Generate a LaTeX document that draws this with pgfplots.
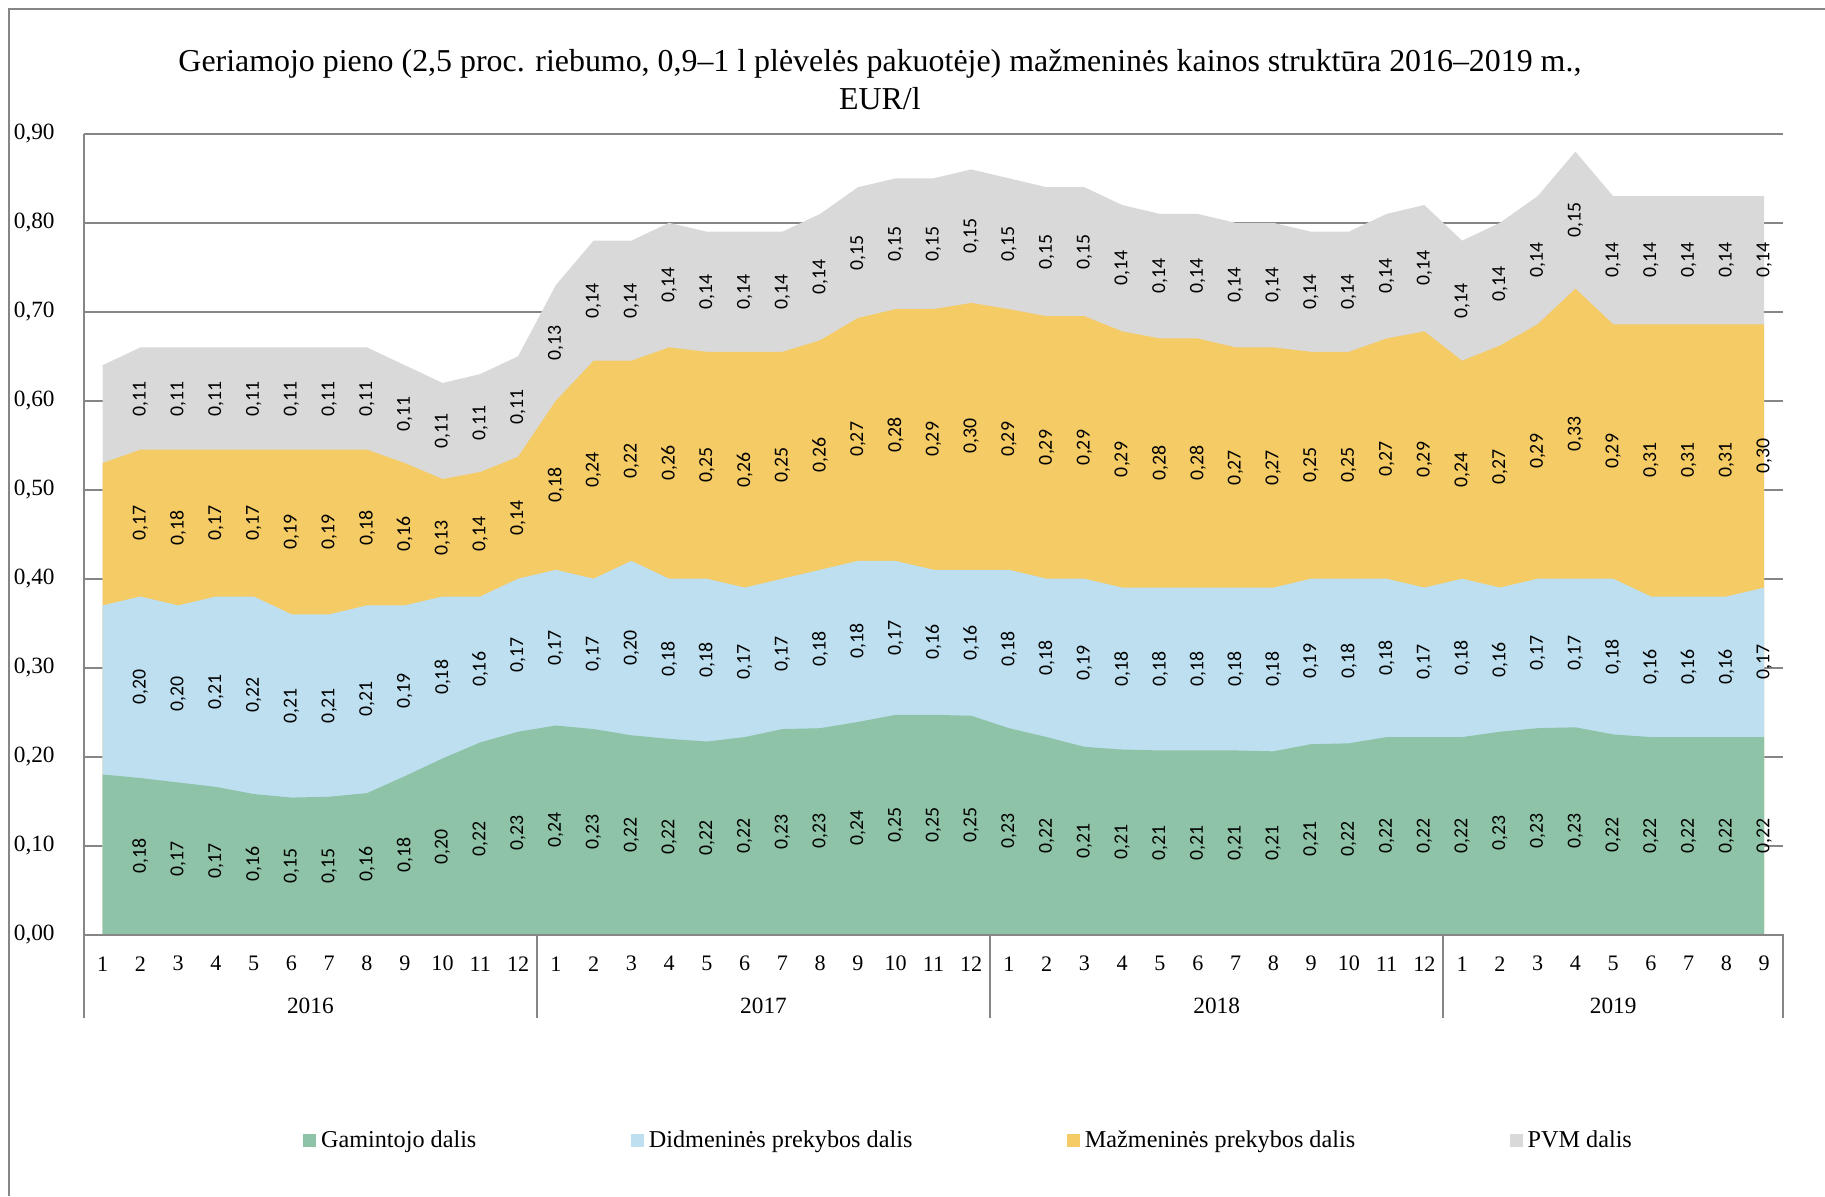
\documentclass[border=0pt]{standalone}
\usepackage{fontspec}
\setmainfont{Liberation Serif}
\newfontfamily\labfont{Carlito}
\usepackage{pgfplots}
\usepackage{pgfplotstable}
\pgfplotsset{compat=1.18}
\definecolor{cg}{RGB}{143,195,167}
\definecolor{cb}{RGB}{189,223,239}
\definecolor{co}{RGB}{244,203,101}
\definecolor{cp}{RGB}{217,217,217}
\definecolor{axg}{RGB}{134,134,134}

\pgfplotstableread{
x g b o t lg lb lo lt
1 .180 .370 .530 .640 - - - -
2 .176 .380 .545 .660 0,18 0,20 0,17 0,11
3 .171 .370 .545 .660 0,17 0,20 0,18 0,11
4 .166 .380 .545 .660 0,17 0,21 0,17 0,11
5 .158 .380 .545 .660 0,16 0,22 0,17 0,11
6 .154 .360 .545 .660 0,15 0,21 0,19 0,11
7 .155 .360 .545 .660 0,15 0,21 0,19 0,11
8 .159 .370 .545 .660 0,16 0,21 0,18 0,11
9 .178 .370 .530 .640 0,18 0,19 0,16 0,11
10 .198 .380 .512 .620 0,20 0,18 0,13 0,11
11 .216 .380 .520 .630 0,22 0,16 0,14 0,11
12 .228 .400 .537 .650 0,23 0,17 0,14 0,11
13 .235 .410 .600 .730 0,24 0,17 0,18 0,13
14 .231 .400 .645 .780 0,23 0,17 0,24 0,14
15 .224 .420 .645 .780 0,22 0,20 0,22 0,14
16 .220 .400 .660 .800 0,22 0,18 0,26 0,14
17 .217 .400 .655 .790 0,22 0,18 0,25 0,14
18 .222 .390 .655 .790 0,22 0,17 0,26 0,14
19 .231 .400 .655 .790 0,23 0,17 0,25 0,14
20 .232 .410 .668 .810 0,23 0,18 0,26 0,14
21 .239 .420 .693 .840 0,24 0,18 0,27 0,15
22 .247 .420 .703 .850 0,25 0,17 0,28 0,15
23 .247 .410 .703 .850 0,25 0,16 0,29 0,15
24 .246 .410 .710 .860 0,25 0,16 0,30 0,15
25 .232 .410 .703 .850 0,23 0,18 0,29 0,15
26 .222 .400 .695 .840 0,22 0,18 0,29 0,15
27 .211 .400 .695 .840 0,21 0,19 0,29 0,15
28 .208 .390 .678 .820 0,21 0,18 0,29 0,14
29 .207 .390 .670 .810 0,21 0,18 0,28 0,14
30 .207 .390 .670 .810 0,21 0,18 0,28 0,14
31 .207 .390 .660 .800 0,21 0,18 0,27 0,14
32 .206 .390 .660 .800 0,21 0,18 0,27 0,14
33 .214 .400 .655 .790 0,21 0,19 0,25 0,14
34 .215 .400 .655 .790 0,22 0,18 0,25 0,14
35 .222 .400 .670 .810 0,22 0,18 0,27 0,14
36 .222 .390 .678 .820 0,22 0,17 0,29 0,14
37 .222 .400 .645 .780 0,22 0,18 0,24 0,14
38 .228 .390 .662 .800 0,23 0,16 0,27 0,14
39 .232 .400 .686 .830 0,23 0,17 0,29 0,14
40 .233 .400 .726 .880 0,23 0,17 0,33 0,15
41 .225 .400 .686 .830 0,22 0,18 0,29 0,14
42 .222 .380 .686 .830 0,22 0,16 0,31 0,14
43 .222 .380 .686 .830 0,22 0,16 0,31 0,14
44 .222 .380 .686 .830 0,22 0,16 0,31 0,14
45 .222 .390 .686 .830 0,22 0,17 0,30 0,14
}\data

\begin{document}
\begin{tikzpicture}
\path[use as bounding box] (-36pt,-112.5pt) rectangle (748pt,401.5pt);
\begin{axis}[
  at={(0pt,0pt)}, anchor=south west,
  scale only axis, width=730pt, height=344pt,
  xmin=0.5, xmax=45.5, ymin=0, ymax=0.9,
  clip=false,
  axis line style={draw=none},
  major tick length=0pt,
  ytick={0,0.1,0.2,0.3,0.4,0.5,0.6,0.7,0.8,0.9},
  ymajorgrids,
  grid style={axg, line width=0.8pt},
  yticklabel style={font=\fontsize{10}{12}\selectfont, xshift=-9pt},
  /pgf/number format/.cd, fixed, fixed zerofill, precision=2, use comma, assume math mode=true,
  /pgfplots/.cd,
  xtick={1,...,45},
  xticklabels={1,2,3,4,5,6,7,8,9,10,11,12,1,2,3,4,5,6,7,8,9,10,11,12,1,2,3,4,5,6,7,8,9,10,11,12,1,2,3,4,5,6,7,8,9},
  xticklabel style={font=\fontsize{9.5}{11}\selectfont, anchor=center, yshift=-12.5pt},
  legend style={draw=none, fill=none, at={(0.5215,-0.257)}, anchor=center,
    font=\fontsize{10.4}{12}\selectfont,
    /tikz/every even column/.append style={column sep=64.5pt}},
  legend columns=4,
  every node near coord/.append style={font=\labfont\fontsize{8.5}{10}\selectfont, rotate=90, anchor=center, inner sep=0pt},
]
\addlegendimage{legend image code/.code={\fill[cg] (0pt,-2.6pt) rectangle (5.2pt,2.6pt);}}
\addlegendentry{Gamintojo dalis}
\addlegendimage{legend image code/.code={\fill[cb] (0pt,-2.6pt) rectangle (5.2pt,2.6pt);}}
\addlegendentry{Didmeninės prekybos dalis}
\addlegendimage{legend image code/.code={\fill[co] (0pt,-2.6pt) rectangle (5.2pt,2.6pt);}}
\addlegendentry{Mažmeninės prekybos dalis}
\addlegendimage{legend image code/.code={\fill[cp] (0pt,-2.6pt) rectangle (5.2pt,2.6pt);}}
\addlegendentry{PVM dalis}

\addplot[fill=cp, draw=none, forget plot] table[x=x, y=t]{\data} \closedcycle;
\addplot[fill=co, draw=none, forget plot] table[x=x, y=o]{\data} \closedcycle;
\addplot[fill=cb, draw=none, forget plot] table[x=x, y=b]{\data} \closedcycle;
\addplot[fill=cg, draw=none, forget plot] table[x=x, y=g]{\data} \closedcycle;

\addplot[draw=none, mark=none, forget plot, skip coords between index={0}{1},
  nodes near coords, point meta=explicit symbolic]
  table[x=x, y expr=\thisrow{g}/2, meta=lg]{\data};
\addplot[draw=none, mark=none, forget plot, skip coords between index={0}{1},
  nodes near coords, point meta=explicit symbolic]
  table[x=x, y expr=(\thisrow{g}+\thisrow{b})/2, meta=lb]{\data};
\addplot[draw=none, mark=none, forget plot, skip coords between index={0}{1},
  nodes near coords, point meta=explicit symbolic]
  table[x=x, y expr=(\thisrow{b}+\thisrow{o})/2, meta=lo]{\data};
\addplot[draw=none, mark=none, forget plot, skip coords between index={0}{1},
  nodes near coords, point meta=explicit symbolic]
  table[x=x, y expr=(\thisrow{o}+\thisrow{t})/2, meta=lt]{\data};

% axis lines and year separators
\draw[axg, line width=0.8pt] (axis cs:0.5,0.9) -- (axis cs:0.5,0) -- ++(0pt,-36pt);
\draw[axg, line width=0.8pt] (axis cs:0.5,0) -- (axis cs:45.5,0) -- ++(0pt,-36pt);
\draw[axg, line width=0.8pt] (axis cs:12.5,0) -- ++(0pt,-36pt);
\draw[axg, line width=0.8pt] (axis cs:24.5,0) -- ++(0pt,-36pt);
\draw[axg, line width=0.8pt] (axis cs:36.5,0) -- ++(0pt,-36pt);
\node[font=\fontsize{10}{12}\selectfont] at ([yshift=-30.5pt]axis cs:6.5,0) {2016};
\node[font=\fontsize{10}{12}\selectfont] at ([yshift=-30.5pt]axis cs:18.5,0) {2017};
\node[font=\fontsize{10}{12}\selectfont] at ([yshift=-30.5pt]axis cs:30.5,0) {2018};
\node[font=\fontsize{10}{12}\selectfont] at ([yshift=-30.5pt]axis cs:41,0) {2019};
% title
\node[font=\fontsize{13.7}{16.5}\selectfont, align=center, anchor=center]
  at ([yshift=23.25pt]rel axis cs:0.4685,1)
  {Geriamojo pieno (2,5 proc. riebumo, 0,9–1 l plėvelės pakuotėje) mažmeninės kainos struktūra 2016–2019 m.,\\EUR/l};
\end{axis}
\draw[axg, line width=1pt] (-32pt,-112.5pt) -- (-32pt,397.5pt) -- (748pt,397.5pt);
\end{tikzpicture}
\end{document}
